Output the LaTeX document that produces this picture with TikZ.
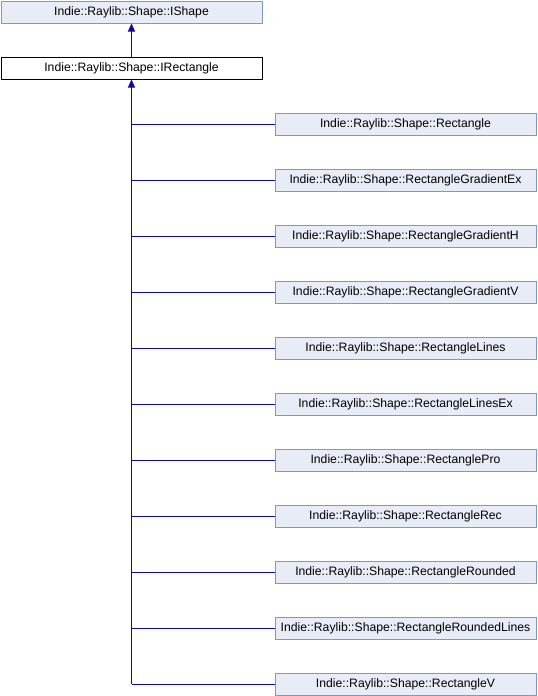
\documentclass[tikz,border=0pt]{standalone}
\usepackage{fontspec}
\setmainfont{Liberation Sans}
\usetikzlibrary{arrows.meta}
\definecolor{boxfill}{HTML}{E8ECF6}
\definecolor{boxdraw}{HTML}{7F98CC}
\definecolor{edge}{HTML}{0D0D9A}
\tikzset{
  cls/.style={draw=boxdraw, fill=boxfill, line width=1pt, minimum width=261pt, minimum height=22pt, inner sep=0pt, font=\fontsize{12.2}{14}\selectfont},
  cur/.style={cls, draw=black, fill=white},
  inh/.style={draw=edge, line width=1pt, -{Triangle[length=8pt,width=7pt]}},
  ln/.style={draw=edge, line width=1pt}
}
\begin{document}
\begin{tikzpicture}[x=1pt,y=-1pt]
\useasboundingbox (0,0) rectangle (538,696);
\node[cls] (ishape) at (131.5,12) {Indie::Raylib::Shape::IShape};
\node[cur] (irect) at (131.5,68) {Indie::Raylib::Shape::IRectangle};
\draw[inh] (irect.north) -- (ishape.south);
\foreach \name/\txt [count=\i from 0] in {
  c0/Rectangle, c1/RectangleGradientEx, c2/RectangleGradientH, c3/RectangleGradientV,
  c4/RectangleLines, c5/RectangleLinesEx, c6/RectanglePro, c7/RectangleRec,
  c8/RectangleRounded, c9/RectangleRoundedLines, c10/RectangleV} {
  \node[cls] (\name) at (405.5,{124+56*\i}) {Indie::Raylib::Shape::\txt};
  \coordinate (j\name) at (irect.south |- \name.west);
  \draw[ln] (\name.west) -- (j\name);
}
\draw[inh] (jc10) -- (irect.south);
\end{tikzpicture}
\end{document}
